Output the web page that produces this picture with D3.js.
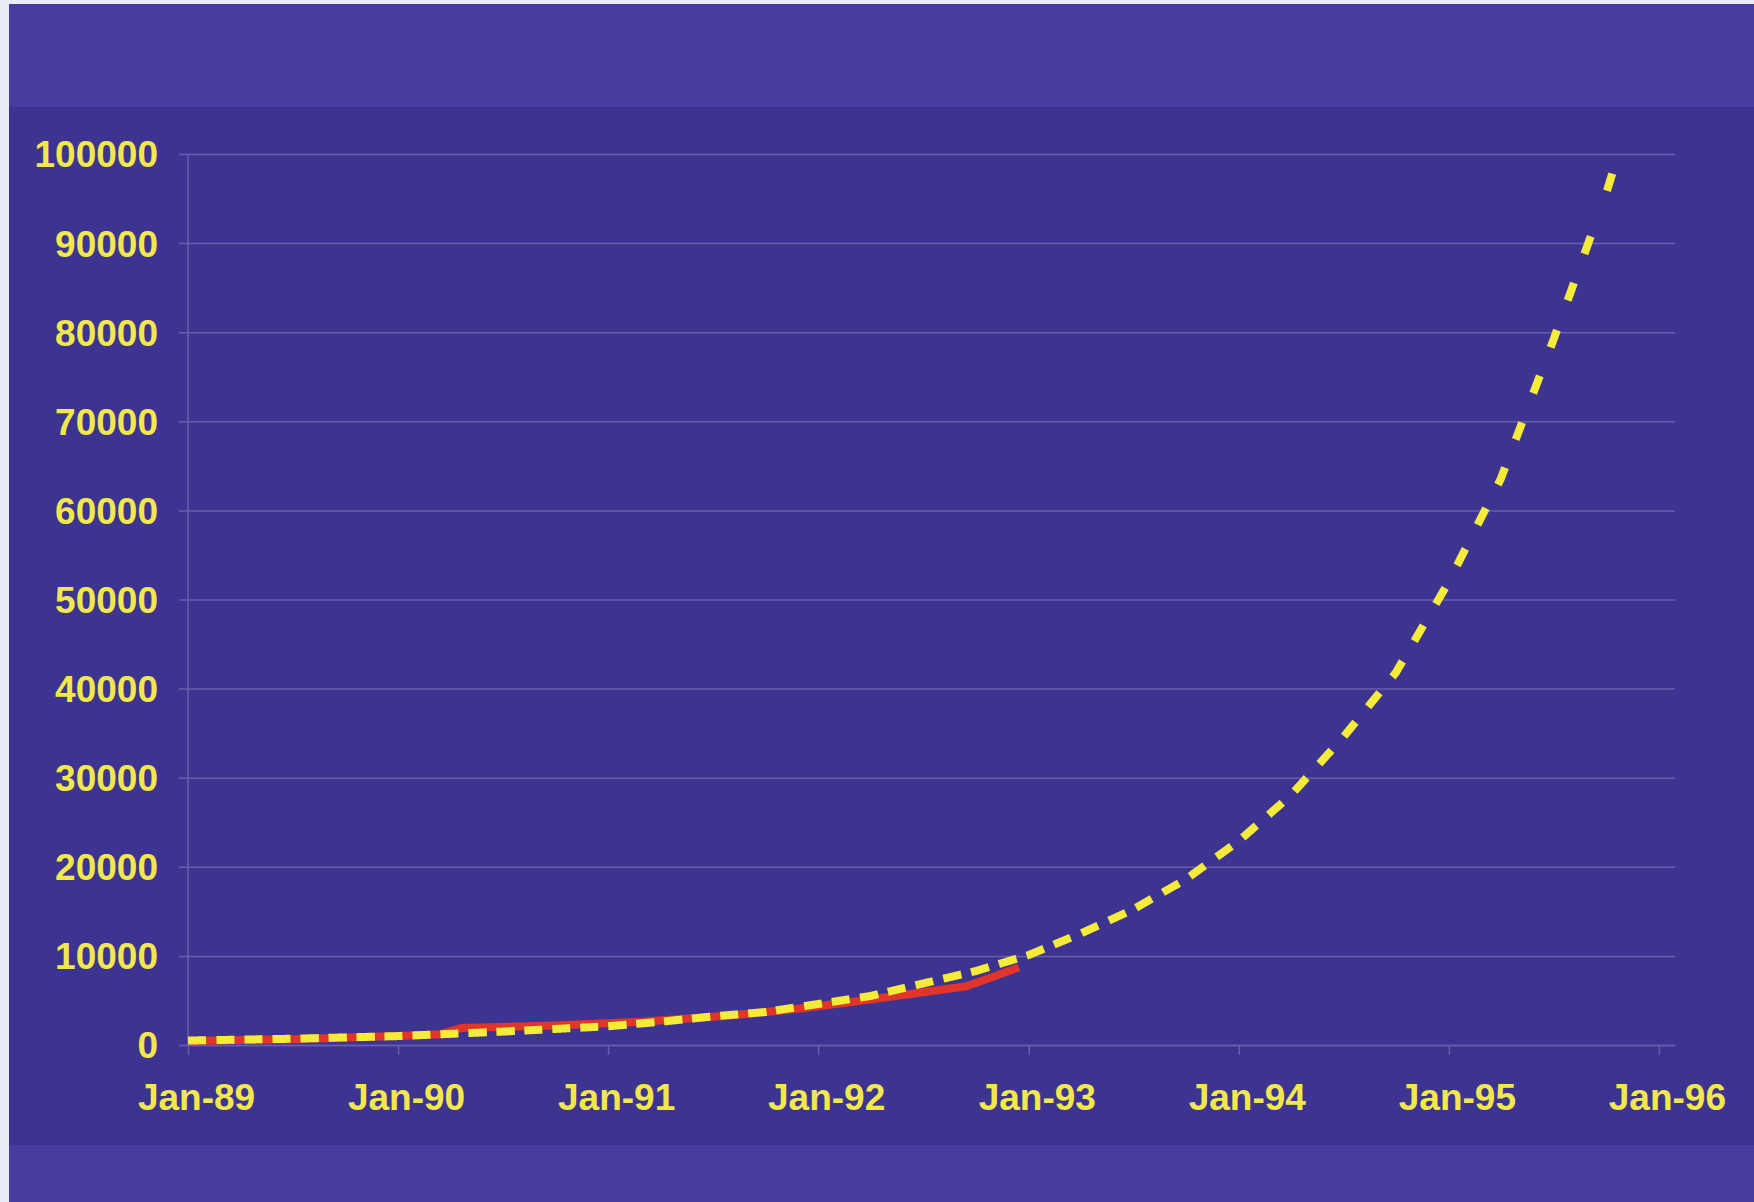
<!DOCTYPE html>
<html>
<head>
<meta charset="utf-8">
<script src="https://cdn.jsdelivr.net/npm/d3@7"></script>
<style>
  html, body { margin: 0; padding: 0; background: #e8eef4; }
  svg { display: block; }
</style>
</head>
<body>
<script>
// Observed counts (solid red) and the fitted growth curve (dashed yellow)
const actualDates = ["1989-01-01","1989-07-01","1990-01-01","1990-03-15","1990-04-20","1990-10-01",
                     "1991-03-01","1991-08-01","1991-12-01","1992-04-01","1992-09-15","1992-12-15"];
const actualValues = [450, 650, 1000, 1200, 1900, 2200, 2600, 3300, 4100, 5100, 6600, 8700];

const projectedDates = ["1989-01-01","1989-07-01","1990-01-01","1990-07-01","1991-01-01","1991-04-01",
                        "1991-07-01","1991-10-01","1992-01-01","1992-04-01","1992-07-01","1992-10-01",
                        "1993-01-01","1993-04-01","1993-07-01","1993-10-01","1994-01-01","1994-04-01",
                        "1994-07-01","1994-10-01","1995-01-01","1995-04-01","1995-07-01","1995-10-01",
                        "1995-10-12"];
const projectedValues = [500, 700, 1000, 1500, 2100, 2600, 3200, 3700, 4600, 5500, 6900, 8300,
                         10100, 12500, 15200, 18600, 22900, 28000, 34500, 41800, 52000, 63500,
                         79000, 95500, 97800];

const yTicks = [0, 10000, 20000, 30000, 40000, 50000, 60000, 70000, 80000, 90000, 100000];
const xDomain = ["1989-01-01", "1996-01-29"];

const W = 1754, H = 1202;
const parse = d3.utcParse("%Y-%m-%d");
const actual = actualDates.map((d, i) => ({ date: parse(d), value: actualValues[i] }));
const projected = projectedDates.map((d, i) => ({ date: parse(d), value: projectedValues[i] }));

const svg = d3.select("body").append("svg").attr("width", W).attr("height", H);

// slide background: pale frame, lighter bands top and bottom, darker chart panel
svg.append("rect").attr("x", 0).attr("y", 0).attr("width", W).attr("height", H).attr("fill", "#e8eef4");
svg.append("rect").attr("x", 9).attr("y", 4).attr("width", W - 9).attr("height", H - 4).attr("fill", "#473c9f");
svg.append("rect").attr("x", 9).attr("y", 107).attr("width", W - 9).attr("height", 1145 - 107).attr("fill", "#3d3491");

const x = d3.scaleUtc().domain(xDomain.map(parse)).range([188, 1675]);
const y = d3.scaleLinear().domain([0, 100000]).range([1045, 154]);

const gridColor = "#6a5dab";
const textColor = "#f2e84c";
const font = "'Liberation Sans', Arial, sans-serif";
const fontSize = 37;

// horizontal gridlines, starting a little left of the axis as tick marks
const yAxis = svg.append("g").attr("transform", "translate(188,0)")
  .call(d3.axisLeft(y).tickValues(yTicks).tickSize(-(1675 - 188)).tickSizeOuter(0).tickPadding(30).tickFormat(d3.format("d")));
yAxis.select(".domain").remove();
yAxis.selectAll(".tick line").attr("x1", -9).attr("stroke", gridColor).attr("stroke-width", 1.5);
yAxis.selectAll(".tick text")
  .attr("x", -30).attr("dy", "0.35em")
  .attr("fill", textColor).attr("font-family", font).attr("font-weight", "bold").attr("font-size", fontSize);

// vertical axis line
svg.append("line").attr("x1", 188).attr("x2", 188).attr("y1", y(100000)).attr("y2", y(0))
  .attr("stroke", gridColor).attr("stroke-width", 1.5);

// date axis with yearly ticks
const xAxis = svg.append("g").attr("transform", `translate(0,${y(0)})`)
  .call(d3.axisBottom(x).ticks(d3.utcYear.every(1)).tickSize(10).tickSizeOuter(0).tickFormat(d3.utcFormat("%b-%y")));
xAxis.select(".domain").attr("stroke", gridColor).attr("stroke-width", 1.5);
xAxis.selectAll(".tick line").attr("stroke", gridColor).attr("stroke-width", 1.5);
xAxis.selectAll(".tick text")
  .attr("x", 8).attr("y", 0).attr("dy", 0)
  .attr("transform", "translate(0,65)")
  .attr("fill", textColor).attr("font-family", font).attr("font-weight", "bold").attr("font-size", fontSize);

const line = d3.line().x(d => x(d.date)).y(d => y(d.value));

// observed series
svg.append("path").datum(actual).attr("d", line)
  .attr("fill", "none").attr("stroke", "#e2352a").attr("stroke-width", 8)
  .attr("stroke-linejoin", "round").attr("stroke-linecap", "butt");

// fitted curve: dashes are laid out along it, with dash starts spaced on a
// vertically squashed copy of the curve so the steep part gets wider gaps
const guide = svg.append("path").datum(projected).attr("d", line)
  .attr("fill", "none").attr("stroke", "none");
const node = guide.node();
const total = node.getTotalLength();
const step = 0.5, period = 28, dashLen = 18, squash = 2.1;
const samples = [];
for (let l = 0; l <= total; l += step) samples.push(node.getPointAtLength(l));
samples.push(node.getPointAtLength(total));

// collect the sample points covering dashLen of curve from index i
function dashFrom(i) {
  const pts = [];
  let len = 0;
  for (let j = i; j < samples.length && len <= dashLen; j++) {
    if (j > i) len += Math.hypot(samples[j].x - samples[j - 1].x, samples[j].y - samples[j - 1].y);
    pts.push([samples[j].x, samples[j].y]);
  }
  return pts;
}

let squashed = 0, nextStart = 0, lastEnd = 0;
const dashes = [];
for (let i = 0; i < samples.length; i++) {
  if (i > 0) {
    const dx = samples[i].x - samples[i - 1].x;
    const dy = (samples[i].y - samples[i - 1].y) / squash;
    squashed += Math.hypot(dx, dy);
  }
  if (squashed >= nextStart) {
    const pts = dashFrom(i);
    if (pts.length > 1) { dashes.push(pts); lastEnd = i + pts.length - 1; }
    nextStart += period;
  }
}
// the curve finishes on a full dash: a short leftover shifts the last dash
// up to the end, a longer one gets a dash of its own
const tail = (samples.length - 1 - lastEnd) * step;
if (tail > 4) {
  const back = Math.max(0, samples.length - 1 - Math.round(dashLen / step));
  if (tail < dashLen + 10) dashes.pop();
  dashes.push(dashFrom(back));
}

svg.append("g").selectAll("path").data(dashes).join("path")
  .attr("d", d3.line())
  .attr("fill", "none").attr("stroke", "#f4eb3a").attr("stroke-width", 8)
  .attr("stroke-linecap", "butt").attr("stroke-linejoin", "miter");
</script>
</body>
</html>
